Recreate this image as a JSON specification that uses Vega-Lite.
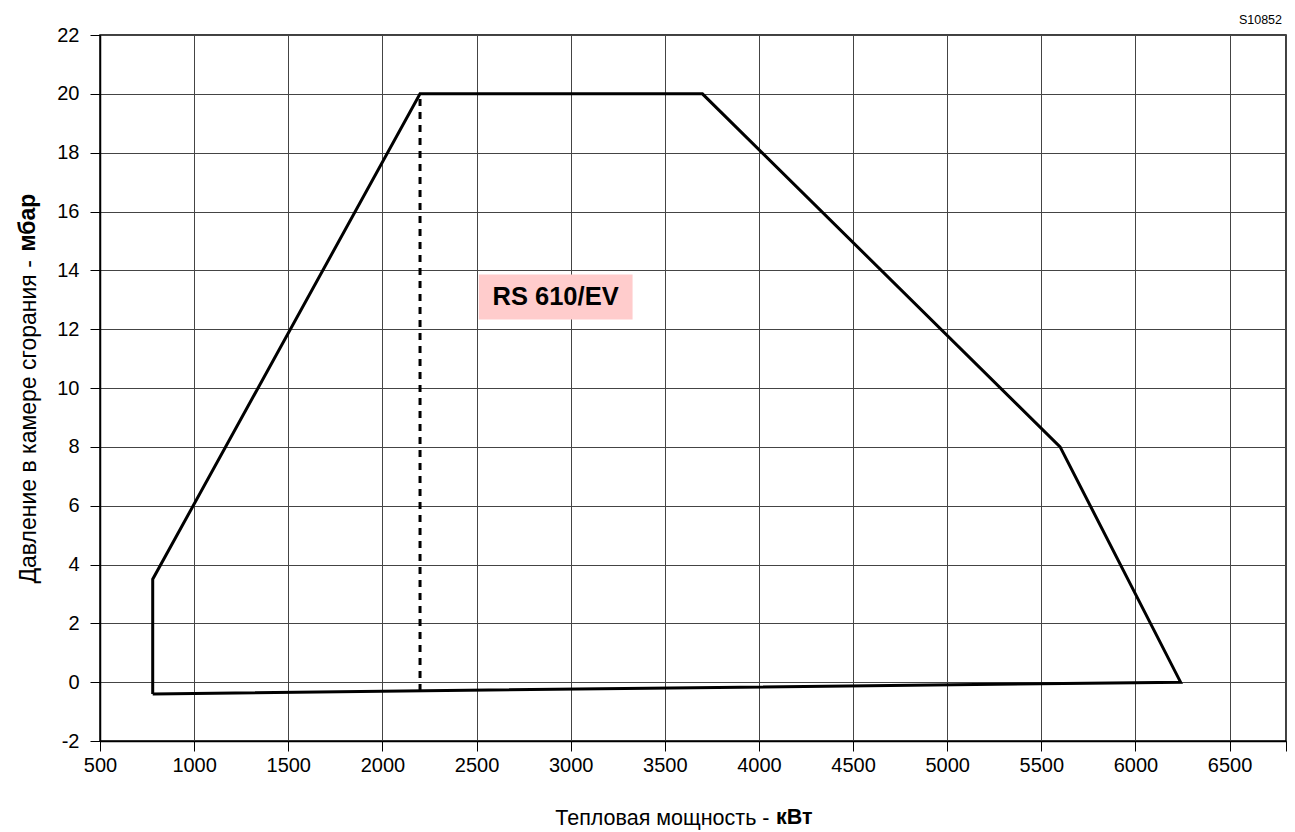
{
  "$schema": "https://vega.github.io/schema/vega-lite/v6.json",
  "width": 1186,
  "height": 706,
  "autosize": {"type": "none"},
  "padding": {"left": 100, "top": 35, "right": 9, "bottom": 91},
  "background": "white",
  "title": {"text": "S10852", "anchor": "end", "frame": "group", "fontSize": 12.5, "fontWeight": "normal", "color": "black", "offset": -1, "dx": -4, "font": "Liberation Sans"},
  "config": {
    "font": "Liberation Sans",
    "view": {"stroke": "black", "strokeWidth": 1.5}
  },
  "datasets": {
    "envelope": [
      {"x": 780, "y": -0.4, "order": 1},
      {"x": 780, "y": 3.5, "order": 2},
      {"x": 2200, "y": 20, "order": 3},
      {"x": 3700, "y": 20, "order": 4},
      {"x": 5600, "y": 8, "order": 5},
      {"x": 6240, "y": 0, "order": 6},
      {"x": 780, "y": -0.4, "order": 7}
    ],
    "dashed": [
      {"x": 2200, "y": -0.3, "order": 1},
      {"x": 2200, "y": 20, "order": 2}
    ],
    "box": [
      {"x": 2512, "x2": 3329, "y": 12.33, "y2": 13.86}
    ],
    "label": [
      {"x": 2920, "y": 13.09, "text": "RS 610/EV"}
    ],
    "unitX": [
      {"x": 4091, "y": -4.83, "text": "кВт"}
    ],
    "unitY": [
      {"x": 155, "y": 14.64, "text": "мбар"}
    ]
  },
  "encoding": {
    "x": {
      "field": "x",
      "type": "quantitative",
      "scale": {"domain": [500, 6800], "nice": false, "zero": false},
      "axis": {
        "title": "Тепловая мощность -",
        "values": [500, 1000, 1500, 2000, 2500, 3000, 3500, 4000, 4500, 5000, 5500, 6000, 6500, 6800],
        "labelExpr": "datum.value == 6800 ? '' : datum.label",
        "format": "d",
        "grid": true,
        "gridColor": "#444444",
        "gridWidth": 1,
        "domainColor": "black",
        "domainWidth": 1.5,
        "tickColor": "black",
        "tickSize": 10,
        "tickWidth": 1,
        "labelFontSize": 20,
        "labelColor": "black",
        "labelPadding": 4,
        "labelFlush": false,
        "labelOverlap": false,
        "titleFontSize": 21.5,
        "titleFontWeight": "normal",
        "titleColor": "black",
        "titleAlign": "right",
        "titleAnchor": null,
        "titleX": 669,
        "titleY": 83,
        "titleBaseline": "alphabetic"
      }
    },
    "y": {
      "field": "y",
      "type": "quantitative",
      "scale": {"domain": [-2, 22], "nice": false, "zero": false},
      "axis": {
        "title": "Давление в камере сгорания -",
        "values": [-2, 0, 2, 4, 6, 8, 10, 12, 14, 16, 18, 20, 22],
        "format": "d",
        "labelExpr": "datum.value < 0 ? '-' + format(-datum.value, 'd') : datum.label",
        "grid": true,
        "gridColor": "#444444",
        "gridWidth": 1,
        "domainColor": "black",
        "domainWidth": 1.5,
        "tickColor": "black",
        "tickSize": 10,
        "tickWidth": 1,
        "labelFontSize": 20,
        "labelColor": "black",
        "labelPadding": 11,
        "labelFlush": false,
        "labelOverlap": false,
        "titleFontSize": 23,
        "titleFontWeight": "normal",
        "titleColor": "black",
        "titleAngle": 270,
        "titleAlign": "left",
        "titleAnchor": null,
        "titleX": -65,
        "titleY": 548,
        "titleBaseline": "alphabetic"
      }
    }
  },
  "layer": [
    {
      "data": {"name": "box"},
      "mark": {"type": "rect", "fill": "#FFCCCC", "stroke": null},
      "encoding": {
        "x2": {"field": "x2"},
        "y2": {"field": "y2"}
      }
    },
    {
      "data": {"name": "label"},
      "mark": {"type": "text", "fontSize": 25.5, "fontWeight": "bold", "color": "black", "align": "center", "baseline": "middle"},
      "encoding": {"text": {"field": "text"}}
    },
    {
      "data": {"name": "envelope"},
      "mark": {"type": "line", "color": "black", "strokeWidth": 3, "strokeJoin": "miter"},
      "encoding": {"order": {"field": "order", "type": "quantitative"}}
    },
    {
      "data": {"name": "dashed"},
      "mark": {"type": "line", "color": "black", "strokeWidth": 3, "strokeDash": [7, 6]},
      "encoding": {"order": {"field": "order", "type": "quantitative"}}
    },
    {
      "data": {"name": "unitX"},
      "mark": {"type": "text", "fontSize": 21.5, "fontWeight": "bold", "color": "black", "align": "left", "baseline": "alphabetic"},
      "encoding": {"text": {"field": "text"}}
    },
    {
      "data": {"name": "unitY"},
      "mark": {"type": "text", "fontSize": 23, "fontWeight": "bold", "color": "black", "align": "left", "baseline": "alphabetic", "angle": 270},
      "encoding": {"text": {"field": "text"}}
    }
  ]
}
